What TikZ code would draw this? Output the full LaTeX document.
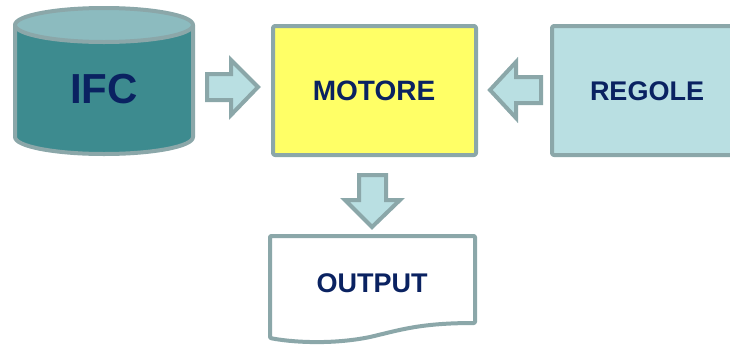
\documentclass[tikz,border=0pt]{standalone}
\usepackage{fontspec}
\setmainfont{Liberation Sans}
\definecolor{bord}{HTML}{8BA7A9}
\definecolor{navy}{HTML}{0A2261}
\definecolor{cyl}{HTML}{3D8B8F}
\definecolor{cyltop}{HTML}{8CBBBF}
\definecolor{lcyan}{HTML}{B9DFE2}
\definecolor{yel}{HTML}{FFFF66}
\begin{document}
\begin{tikzpicture}[x=1pt,y=-1pt,
  shapeline/.style={draw=bord,line width=4pt,line join=round},
  blockarrow/.style={shapeline,fill=lcyan,line join=miter},
  lbl/.style={font=\bfseries\fontsize{28}{30}\selectfont,text=navy,inner sep=0pt}]
\useasboundingbox (0,0) rectangle (730,346);
% cylinder IFC
\path[shapeline,fill=cyl] (15,25) -- (15,137) arc[start angle=180,end angle=0,x radius=89,y radius=17] -- (193,25) -- cycle;
\path[shapeline,fill=cyltop] (104,25) ellipse[x radius=89,y radius=17];
\node[lbl,font=\bfseries\fontsize{42}{44}\selectfont] (ifc) at (104,89) {IFC};
% MOTORE
\path[shapeline,fill=yel,rounded corners=2pt] (273,26) rectangle (476,155);
\node[lbl] (motore) at (374,91) {MOTORE};
% REGOLE
\path[shapeline,fill=lcyan,rounded corners=2pt] (552,26) rectangle (745,155);
\node[lbl,font=\bfseries\fontsize{27}{29}\selectfont] (regole) at (647,91) {REGOLE};
% OUTPUT document
\path[shapeline,fill=white,rounded corners=1pt] (270,236) -- (475,236) -- (475,323)
  .. controls (420,323) and (400,330) .. (370,337)
  .. controls (330,345) and (290,342) .. (270,338) -- cycle;
\node[lbl,font=\bfseries\fontsize{27}{29}\selectfont] (output) at (372,283) {OUTPUT};
% block arrows
\path[blockarrow] (207,74) -- (231,74) -- (231,60) -- (258,87) -- (231,115) -- (231,100) -- (207,100) -- cycle;
\path[blockarrow] (541,77) -- (516,77) -- (516,62) -- (490,90) -- (516,118) -- (516,103) -- (541,103) -- cycle;
\path[blockarrow] (359,175) -- (386,175) -- (386,200) -- (400,200) -- (372,227) -- (345,200) -- (359,200) -- cycle;
\end{tikzpicture}
\end{document}
